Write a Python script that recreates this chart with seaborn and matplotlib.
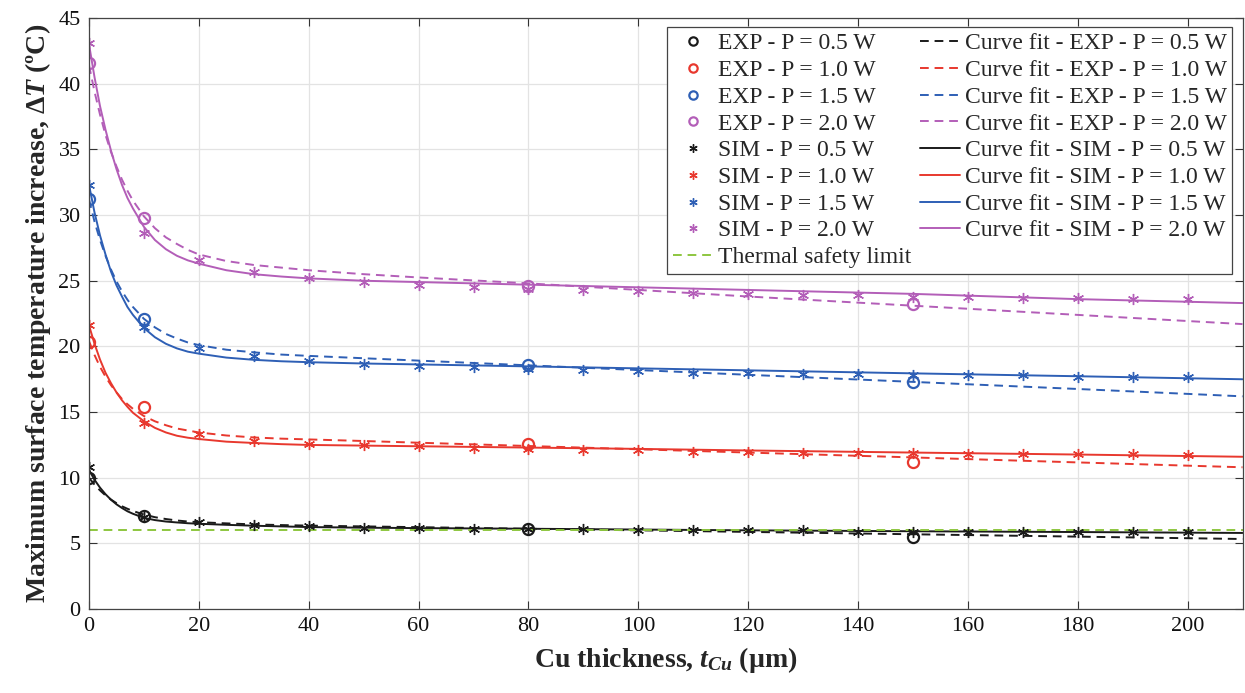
import numpy as np
import pandas as pd
import matplotlib
matplotlib.use("Agg")
import matplotlib.pyplot as plt
import seaborn as sns

# measured / simulated points
exp_x = [0, 10, 80, 150]
exp_05 = [10.0, 7.1, 6.1, 5.5]
exp_10 = [20.3, 15.4, 12.6, 11.2]
exp_15 = [31.2, 22.1, 18.6, 17.3]
exp_20 = [41.6, 29.8, 24.6, 23.2]

sim_x = [0, 10, 20, 30, 40, 50, 60, 70, 80, 90, 100, 110, 120, 130, 140, 150, 160, 170, 180, 190, 200]
sim_05 = [10.8, 7.0, 6.6, 6.4, 6.3, 6.2, 6.2, 6.1, 6.1, 6.1, 6.0, 6.0, 6.0, 6.0, 5.9, 5.9, 5.9, 5.9, 5.9, 5.9, 5.9]
sim_10 = [21.6, 14.2, 13.3, 12.8, 12.6, 12.5, 12.4, 12.3, 12.2, 12.1, 12.1, 12.0, 12.0, 11.9, 11.9, 11.9, 11.8, 11.8, 11.8, 11.8, 11.7]
sim_15 = [32.3, 21.5, 19.9, 19.3, 18.9, 18.7, 18.5, 18.4, 18.3, 18.2, 18.1, 18.0, 18.0, 17.9, 17.9, 17.8, 17.8, 17.8, 17.7, 17.7, 17.7]
sim_20 = [43.1, 28.6, 26.6, 25.7, 25.2, 24.9, 24.7, 24.5, 24.4, 24.3, 24.2, 24.1, 24.0, 23.9, 23.9, 23.8, 23.8, 23.7, 23.7, 23.6, 23.6]

# curve fits
fit_x = [0, 1, 2, 3, 4, 5, 6, 7, 8, 10, 12, 14, 16, 18, 20, 25, 30, 35, 40, 50, 60, 80, 100, 120, 150, 180, 210]
fit_exp_05 = [10.0, 9.48, 9.04, 8.66, 8.34, 8.07, 7.83, 7.64, 7.47, 7.2, 7.0, 6.86, 6.75, 6.67, 6.62, 6.53, 6.45, 6.4, 6.36, 6.3, 6.24, 6.12, 6.0, 5.88, 5.7, 5.52, 5.34]
fit_exp_10 = [20.4, 19.35, 18.45, 17.7, 17.05, 16.5, 16.0, 15.6, 15.25, 14.7, 14.3, 14.0, 13.75, 13.6, 13.45, 13.22, 13.07, 12.98, 12.92, 12.8, 12.67, 12.42, 12.17, 11.92, 11.55, 11.17, 10.8]
fit_exp_15 = [31.2, 29.5, 28.1, 26.9, 25.85, 24.95, 24.2, 23.55, 23.0, 22.1, 21.45, 20.95, 20.6, 20.3, 20.1, 19.75, 19.55, 19.38, 19.28, 19.1, 18.92, 18.56, 18.2, 17.84, 17.3, 16.76, 16.2]
fit_exp_20 = [41.4, 39.4, 37.65, 36.1, 34.8, 33.7, 32.7, 31.85, 31.1, 29.9, 29.0, 28.3, 27.8, 27.35, 27.0, 26.5, 26.2, 26.0, 25.8, 25.5, 25.25, 24.8, 24.3, 23.8, 23.1, 22.4, 21.7]
fit_sim_05 = [10.6, 9.85, 9.25, 8.75, 8.33, 7.98, 7.7, 7.45, 7.26, 6.95, 6.78, 6.67, 6.6, 6.54, 6.5, 6.42, 6.35, 6.3, 6.25, 6.2, 6.17, 6.12, 6.06, 6.0, 5.93, 5.87, 5.8]
fit_sim_10 = [21.6, 20.2, 19.0, 18.0, 17.2, 16.5, 15.9, 15.4, 14.95, 14.3, 13.8, 13.45, 13.2, 13.05, 12.95, 12.75, 12.65, 12.56, 12.5, 12.45, 12.4, 12.3, 12.2, 12.08, 11.92, 11.77, 11.6]
fit_sim_15 = [32.3, 30.2, 28.45, 27.0, 25.7, 24.65, 23.8, 23.0, 22.4, 21.4, 20.7, 20.2, 19.85, 19.6, 19.45, 19.15, 18.98, 18.87, 18.8, 18.7, 18.63, 18.48, 18.33, 18.18, 17.95, 17.73, 17.5]
fit_sim_20 = [43.0, 40.5, 38.3, 36.5, 34.9, 33.5, 32.3, 31.3, 30.5, 29.1, 28.1, 27.4, 26.9, 26.55, 26.3, 25.8, 25.5, 25.32, 25.18, 25.0, 24.9, 24.7, 24.5, 24.3, 24.0, 23.6, 23.3]

safety_limit = 6.0
powers = ["0.5", "1.0", "1.5", "2.0"]
colors = ["#1a1a1a", "#e8382e", "#2e5fb5", "#b35eb8"]
safety_color = "#8dc63f"

exp_series = [exp_05, exp_10, exp_15, exp_20]
sim_series = [sim_05, sim_10, sim_15, sim_20]
fit_exp = [fit_exp_05, fit_exp_10, fit_exp_15, fit_exp_20]
fit_sim = [fit_sim_05, fit_sim_10, fit_sim_15, fit_sim_20]

sns.set_style("ticks")
plt.rcParams["font.family"] = ["Liberation Serif", "DejaVu Serif"]
plt.rcParams["mathtext.fontset"] = "custom"
plt.rcParams["mathtext.rm"] = "Liberation Serif:bold"
plt.rcParams["mathtext.it"] = "Liberation Serif:italic:bold"
plt.rcParams["mathtext.bf"] = "Liberation Serif:bold"

fig, ax = plt.subplots(figsize=(12.45, 6.93), dpi=100)
fig.subplots_adjust(left=0.0715, right=0.998, top=0.974, bottom=0.121)

dash = (4.5, 3)
h_exp, h_sim, h_fe, h_fs = [], [], [], []
for p, c, fe in zip(powers, colors, fit_exp):
    sns.lineplot(x=fit_x, y=fe, ax=ax, color=c, lw=1.4, dashes=False,
                 estimator=None, sort=False, label=f"Curve fit - EXP - P = {p} W")
    ax.lines[-1].set_dashes(dash)
    h_fe.append(ax.lines[-1])
for p, c, fs in zip(powers, colors, fit_sim):
    sns.lineplot(x=fit_x, y=fs, ax=ax, color=c, linestyle="-", lw=1.4,
                 estimator=None, sort=False, label=f"Curve fit - SIM - P = {p} W")
    h_fs.append(ax.lines[-1])

ax.axhline(safety_limit, color=safety_color, lw=1.4, label="Thermal safety limit")
ax.lines[-1].set_dashes(dash)
h_safe = ax.lines[-1]

for p, c, ys in zip(powers, colors, exp_series):
    sns.lineplot(x=exp_x, y=ys, ax=ax, color=c, linestyle="", marker="o", markersize=8,
                 markerfacecolor="none", markeredgecolor=c, markeredgewidth=1.6,
                 estimator=None, sort=False, label=f"EXP - P = {p} W")
    h_exp.append(ax.lines[-1])
for p, c, ys in zip(powers, colors, sim_series):
    sns.lineplot(x=sim_x, y=ys, ax=ax, color=c, linestyle="", marker=(6, 2, 0), markersize=8,
                 markeredgecolor=c, markeredgewidth=1.0,
                 estimator=None, sort=False, label=f"SIM - P = {p} W")
    h_sim.append(ax.lines[-1])

ax.set_xlim(0, 210)
ax.set_ylim(0, 45)
ax.set_xticks(np.arange(0, 201, 20))
ax.set_yticks(np.arange(0, 46, 5))
ax.grid(True, color="#e3e3e3", lw=0.9)
ax.set_axisbelow(True)
ax.tick_params(direction="in", length=6, width=0.8, top=True, right=True,
               labelsize=16, colors="#333333", labelcolor="#111111", pad=6)
for s in ax.spines.values():
    s.set_visible(True)
    s.set_color("#444444")
    s.set_linewidth(0.9)

ax.set_xlabel(r"Cu thickness, $\mathit{t}_{\mathit{Cu}}$ (µm)", fontsize=20, fontweight="bold", labelpad=6)
ax.set_ylabel(r"Maximum surface temperature increase, $\mathit{\Delta T}$ (ºC)", fontsize=20,
              fontweight="bold", labelpad=4)

handles = h_exp + h_sim + [h_safe] + h_fe + h_fs
labels = [h.get_label() for h in handles]
leg = ax.legend(handles, labels, ncol=2, loc="upper right", bbox_to_anchor=(0.9913, 0.9848),
                fontsize=17, frameon=True, fancybox=False, edgecolor="#444444",
                framealpha=1, borderpad=0.25, labelspacing=0.22, handlelength=1.7,
                handletextpad=0.2, columnspacing=0.35, borderaxespad=0.0, numpoints=1)
leg.get_frame().set_linewidth(0.9)
for lh in leg.get_lines():
    if lh.get_marker() not in ("None", None, ""):
        lh.set_markersize(6)

fig.savefig("out.png", dpi=100)
